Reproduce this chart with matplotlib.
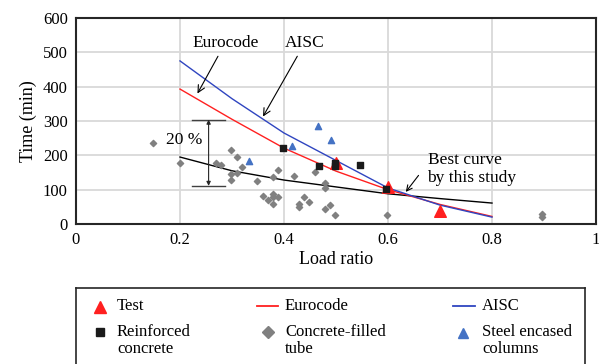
import numpy as np
import matplotlib.pyplot as plt

plt.rcParams['font.family'] = ['Liberation Serif', 'DejaVu Serif']

# Design curves
curve_x = [0.2, 0.3, 0.4, 0.5, 0.6, 0.7, 0.8]
eurocode = [393, 305, 221, 154, 100, 57, 22]
aisc = [475, 365, 265, 185, 105, 55, 20]
best = [195, 155, 128, 108, 88, 74, 61]

# Test results
test_x = [0.5, 0.6, 0.7]
test_y = [178, 107, 38]

# Reinforced concrete
rc_x = [0.399, 0.467, 0.498, 0.498, 0.547, 0.597]
rc_y = [220, 169, 178, 168, 172, 101]

# Concrete-filled tube
cft_x = [0.149, 0.2, 0.269, 0.279, 0.299, 0.309, 0.319, 0.309, 0.299, 0.299,
         0.349, 0.359, 0.369, 0.379, 0.379, 0.379, 0.389, 0.379, 0.389,
         0.419, 0.429, 0.429, 0.439, 0.449, 0.459, 0.478, 0.478, 0.478,
         0.488, 0.499, 0.599, 0.897, 0.897]
cft_y = [237, 177, 178, 173, 215, 194, 167, 150, 146, 128,
         126, 82, 70, 87, 78, 57, 78, 136, 157,
         141, 57, 49, 78, 65, 151, 120, 106, 43,
         54, 27, 25, 30, 20]

# Steel encased columns
sec_x = [0.333, 0.415, 0.466, 0.490]
sec_y = [183, 226, 285, 244]

RED = '#ff2020'
BLUE_LINE = '#2f45c0'
BLUE_MK = '#4472c4'
GRAY = '#808080'
DARK = '#1a1a1a'

W, H = 599, 364
fig = plt.figure(figsize=(W / 100, H / 100), dpi=100)
ax = fig.add_axes([76 / W, 1 - 224 / H, 520 / W, 206 / H])

ax.plot(curve_x, best, color='black', lw=1.0, zorder=3)
ax.plot(curve_x, eurocode, color=RED, lw=1.0, zorder=3)
ax.plot(curve_x, aisc, color=BLUE_LINE, lw=1.0, zorder=3)
ax.scatter(cft_x, cft_y, marker='D', s=10, color=GRAY, zorder=4)
ax.scatter(sec_x, sec_y, marker='^', s=20, color=BLUE_MK, zorder=4)
ax.scatter(test_x, test_y, marker='^', s=70, color=RED, zorder=4)
ax.scatter(rc_x, rc_y, marker='s', s=22, color=DARK, zorder=5)

ax.set_xlim(0, 1)
ax.set_ylim(0, 600)
ax.set_xticks(np.arange(0, 1.01, 0.2))
ax.set_xticklabels(['0', '0.2', '0.4', '0.6', '0.8', '1'])
ax.set_yticks(np.arange(0, 601, 100))
ax.grid(True, color='#d9d9d9', lw=1.3)
ax.set_axisbelow(True)
ax.tick_params(length=0, labelsize=12, pad=6)
for s in ax.spines.values():
    s.set_color('#262626')
    s.set_linewidth(1.5)
ax.set_xlabel('Load ratio', fontsize=13, labelpad=2)
ax.set_ylabel('Time (min)', fontsize=13, labelpad=4)

# Annotations
arrow = dict(arrowstyle='->', color='black', lw=0.8)
ax.annotate('Eurocode', xy=(0.231, 373), xytext=(0.287, 527), ha='center',
            va='center', fontsize=12.5, arrowprops=arrow)
ax.annotate('AISC', xy=(0.357, 306), xytext=(0.44, 527), ha='center',
            va='center', fontsize=12.5, arrowprops=arrow)
ax.annotate('', xy=(0.631, 87), xytext=(0.662, 148), arrowprops=arrow)
ax.text(0.676, 160, 'Best curve\nby this study', ha='left', va='center',
        fontsize=12.5, linespacing=1.15)

# 20 % band
ax.plot([0.223, 0.287], [304, 304], color='#404040', lw=1.0)
ax.plot([0.223, 0.287], [111, 111], color='#404040', lw=1.0)
ax.annotate('', xy=(0.255, 304), xytext=(0.255, 111),
            arrowprops=dict(arrowstyle='<|-|>', color='#262626', lw=0.8,
                            mutation_scale=6, shrinkA=0, shrinkB=0))
ax.text(0.243, 245, '20 %', ha='right', va='center', fontsize=12.5)

# Legend box, drawn in pixel coordinates
lg = fig.add_axes([76 / W, -10 / H, 509 / W, 86 / H])
lg.set_xlim(76, 585)
lg.set_ylim(374, 288)
lg.set_xticks([])
lg.set_yticks([])
for s in lg.spines.values():
    s.set_color('#262626')
    s.set_linewidth(1.2)

fs = 12
lg.plot([100], [307], ls='none', marker='^', ms=8, color=RED)
lg.text(117, 306, 'Test', va='center', fontsize=fs)
lg.plot([257, 278], [306, 306], color=RED, lw=1.3)
lg.text(285, 306, 'Eurocode', va='center', fontsize=fs)
lg.plot([453, 475], [306, 306], color=BLUE_LINE, lw=1.3)
lg.text(482, 306, 'AISC', va='center', fontsize=fs)

lg.plot([100], [332], ls='none', marker='s', ms=6, color=DARK)
lg.text(117, 324, 'Reinforced\nconcrete', va='top', fontsize=fs, linespacing=1.1)
lg.plot([268], [332], ls='none', marker='D', ms=6, color=GRAY)
lg.text(285, 324, 'Concrete-filled\ntube', va='top', fontsize=fs, linespacing=1.1)
lg.plot([463], [333], ls='none', marker='^', ms=7, color=BLUE_MK)
lg.text(482, 324, 'Steel encased\ncolumns', va='top', fontsize=fs, linespacing=1.1)

fig.savefig('out.png', dpi=100)
